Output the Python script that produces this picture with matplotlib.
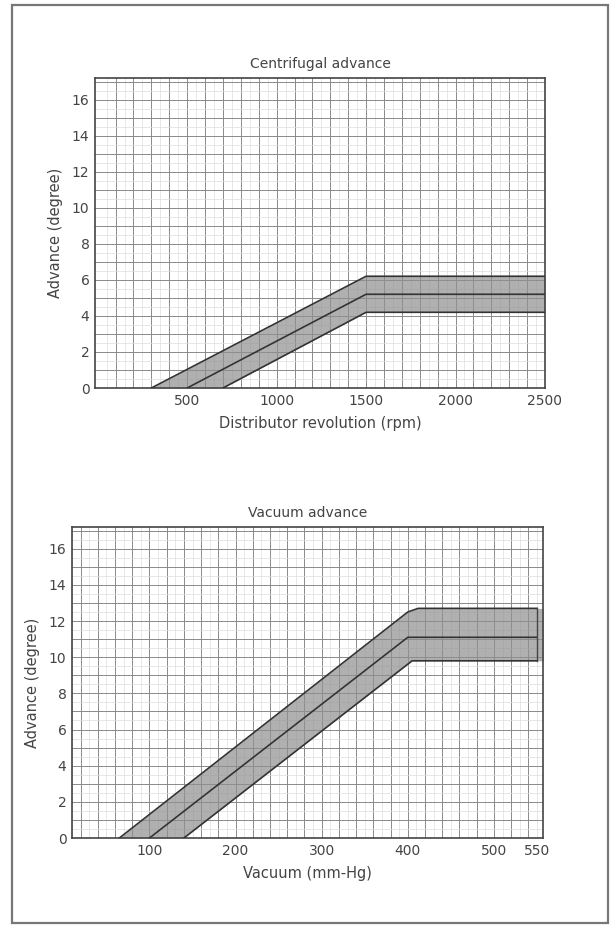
import numpy as np
import matplotlib.pyplot as plt
from matplotlib.patches import Rectangle

# Centrifugal advance band (rpm, degree)
cf_upper_x = [300, 1500, 2500]
cf_upper_y = [0, 6.2, 6.2]
cf_mid_x = [500, 1500, 2500]
cf_mid_y = [0, 5.2, 5.2]
cf_lower_x = [700, 1500, 2500]
cf_lower_y = [0, 4.2, 4.2]
cf_xticks = [500, 1000, 1500, 2000, 2500]

# Vacuum advance band (mm-Hg, degree)
vac_upper_x = [65, 400, 412, 550]
vac_upper_y = [0, 12.5, 12.7, 12.7]
vac_mid_x = [100, 400, 550]
vac_mid_y = [0, 11.1, 11.1]
vac_lower_x = [140, 405, 550]
vac_lower_y = [0, 9.8, 9.8]
vac_xticks = [100, 200, 300, 400, 500, 550]

yticks = [0, 2, 4, 6, 8, 10, 12, 14, 16]

plt.rcParams["font.family"] = ["DejaVu Sans"]
fig = plt.figure(figsize=(6.14, 9.26), dpi=100)

# scanned page frame
fig.patches.append(Rectangle((12 / 614, 3 / 926), 596 / 614, 918 / 926,
                             transform=fig.transFigure, fill=False,
                             edgecolor="#777777", linewidth=1.6))


def band(ax, ux, uy, mx, my, lx, ly, xmax):
    xs = np.linspace(0, xmax, 800)
    u = np.interp(xs, ux, uy, left=0)
    m = np.interp(xs, mx, my, left=0)
    l = np.interp(xs, lx, ly, left=0)
    mask = xs >= ux[0]
    ax.fill_between(xs, m, u, where=mask, color="#8f8f8f", alpha=0.7,
                    linewidth=0, zorder=2)
    ax.fill_between(xs, l, m, where=mask, color="#8f8f8f", alpha=0.7,
                    linewidth=0, zorder=2)
    for x, y in [(ux, uy), (mx, my), (lx, ly)]:
        ax.plot(x, y, color="#333333", linewidth=1.2, zorder=3)
    ax.plot([ux[-1], ux[-1]], [ly[-1], uy[-1]], color="#444444",
            linewidth=1.0, zorder=3)


def paper(ax, xmax, xstep):
    # graph paper: full lines every step, faint half lines
    for x in np.arange(xstep / 2, xmax, xstep / 2):
        major = abs((x / xstep) - round(x / xstep)) < 1e-6
        ax.axvline(x, color="#8a8a8a" if major else "#dddddd",
                   linewidth=0.7 if major else 0.5, zorder=1)
    for y in np.arange(0.5, 17.5, 0.5):
        major = abs(y - round(y)) < 1e-6
        ax.axhline(y, color="#8a8a8a" if major else "#dddddd",
                   linewidth=0.7 if major else 0.5, zorder=1)
    for s in ax.spines.values():
        s.set_color("#444444")
        s.set_linewidth(1.2)
    ax.tick_params(length=0, labelsize=10, colors="#444444", pad=4)


# Top chart
ax1 = fig.add_axes([95 / 614, 1 - 388 / 926, 450 / 614, 310 / 926])
paper(ax1, 2500, 100)
band(ax1, cf_upper_x, cf_upper_y, cf_mid_x, cf_mid_y, cf_lower_x, cf_lower_y, 2500)
ax1.set_xlim(-15, 2500)
ax1.set_ylim(0, 17.2)
ax1.set_xticks(cf_xticks)
ax1.set_yticks(yticks)
ax1.set_title("Centrifugal advance", fontsize=10, color="#444444", pad=7)
ax1.set_xlabel("Distributor revolution (rpm)", fontsize=10.5, color="#444444",
               labelpad=6)
ax1.set_ylabel("Advance (degree)", fontsize=10.5, color="#444444", labelpad=6)

# Bottom chart
ax2 = fig.add_axes([72 / 614, 1 - 838 / 926, 471 / 614, 311 / 926])
paper(ax2, 560, 20)
band(ax2, vac_upper_x, vac_upper_y, vac_mid_x, vac_mid_y, vac_lower_x, vac_lower_y, 560)
ax2.set_xlim(10, 557)
ax2.set_ylim(0, 17.2)
ax2.set_xticks(vac_xticks)
ax2.set_yticks(yticks)
ax2.set_title("Vacuum advance", fontsize=10, color="#444444", pad=7)
ax2.set_xlabel("Vacuum (mm-Hg)", fontsize=10.5, color="#444444", labelpad=6)
ax2.set_ylabel("Advance (degree)", fontsize=10.5, color="#444444", labelpad=6)

fig.savefig("out.png", dpi=100)
